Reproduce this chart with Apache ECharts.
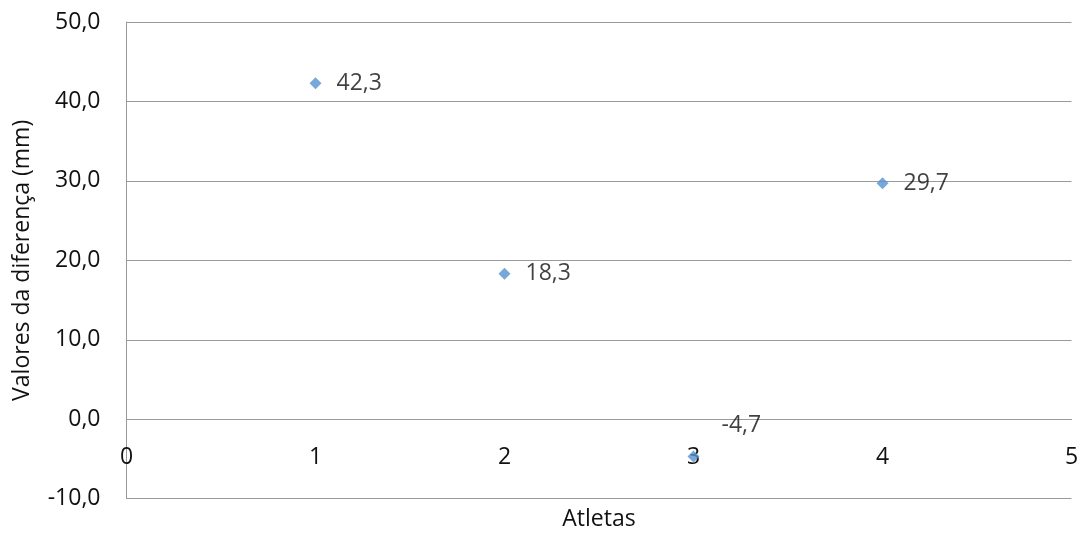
<!DOCTYPE html>
<html>
<head>
<meta charset="utf-8">
<script src="https://cdn.jsdelivr.net/npm/echarts@6/dist/echarts.min.js"></script>
<style>
html,body{margin:0;padding:0;background:#fff;}
#chart{width:1085px;height:533px;}
</style>
</head>
<body>
<div id="chart"></div>
<script>
// Data
const athletes = [1, 2, 3, 4];
const differences = [42.3, 18.3, -4.7, 29.7];
const yTitle = 'Valores da diferença (mm)';
const xTitle = 'Atletas';

const fmt = v => v.toFixed(1).replace('.', ',');
const font = 'Open Sans';
const textColor = '#111';
const gridColor = '#9a9a9a';

const points = athletes.map((a, i) => {
  const item = { value: [a, differences[i]] };
  if (differences[i] < 0) {
    item.label = { position: [34, -37] };
  }
  return item;
});

const chart = echarts.init(document.getElementById('chart'));
chart.setOption({
  animation: false,
  backgroundColor: '#fff',
  grid: { left: 126.5, right: 13.5, top: 22, bottom: 34.3, containLabel: false, outerBoundsMode: 'none' },
  xAxis: {
    type: 'value', min: 0, max: 5, interval: 1,
    position: 'bottom', offset: -79.2,
    name: xTitle, nameLocation: 'middle', nameGap: 88,
    nameTextStyle: { fontFamily: font, fontSize: 23, color: textColor },
    axisLine: { show: true, onZero: false, lineStyle: { color: gridColor, width: 1 } },
    axisTick: { show: false },
    splitLine: { show: false },
    axisLabel: { fontFamily: font, fontSize: 23, color: textColor, margin: 26 }
  },
  yAxis: {
    type: 'value', min: -10, max: 50, interval: 10,
    name: yTitle, nameLocation: 'middle', nameGap: 93, nameRotate: 90,
    nameTextStyle: { fontFamily: font, fontSize: 23, color: textColor },
    axisLine: { show: true, onZero: false, lineStyle: { color: gridColor, width: 1 } },
    axisTick: { show: false },
    splitLine: { show: true, lineStyle: { color: gridColor, width: 1 } },
    axisLabel: { fontFamily: font, fontSize: 23, color: textColor, margin: 26, formatter: v => fmt(v) }
  },
  series: [{
    type: 'scatter',
    symbol: 'diamond',
    symbolSize: 12,
    itemStyle: { color: '#5592CF' },
    data: points,
    label: {
      show: true,
      position: 'right',
      distance: 15,
      fontFamily: font, fontSize: 23, color: textColor,
      formatter: p => fmt(p.value[1])
    }
  }]
});
</script>
</body>
</html>
